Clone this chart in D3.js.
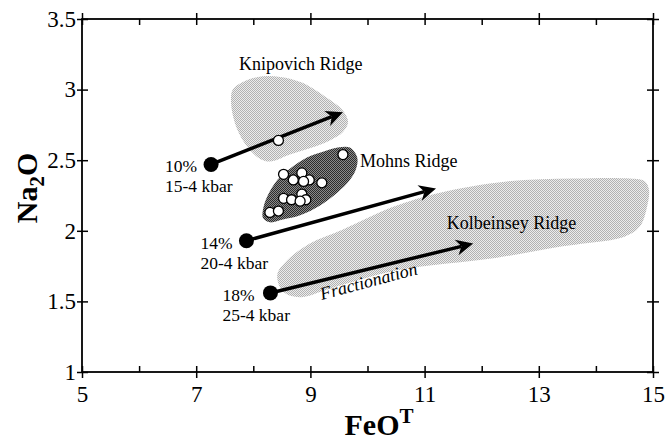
<!DOCTYPE html>
<html>
<head>
<meta charset="utf-8">
<script src="https://cdn.jsdelivr.net/npm/d3@7"></script>
<style>
  html, body { margin: 0; padding: 0; background: #fff; }
  svg { display: block; }
  svg text { font-family: "Liberation Serif", "Times New Roman", Times, serif; fill: #000; }
</style>
</head>
<body>
<svg id="chart" width="669" height="442"></svg>
<script>
// axis ticks
const xMajor = [5, 7, 9, 11, 13, 15];
const xMinor = [6, 8, 10, 12, 14];
const yMajor = [1, 1.5, 2, 2.5, 3, 3.5];

// field outlines (FeOT, Na2O)
const knipovichField = [[7.80,3.05],[8.08,3.09],[8.47,3.09],[8.85,3.05],[9.26,2.95],[9.55,2.86],[9.66,2.77],[9.57,2.70],[9.34,2.64],[9.03,2.59],[8.64,2.54],[8.29,2.49],[8.08,2.52],[7.85,2.62],[7.68,2.76],[7.61,2.91],[7.64,3.00]];
const mohnsField = [[9.69,2.59],[9.82,2.52],[9.80,2.44],[9.69,2.36],[9.47,2.27],[9.17,2.18],[8.82,2.11],[8.52,2.08],[8.29,2.06],[8.17,2.09],[8.17,2.15],[8.24,2.24],[8.42,2.36],[8.64,2.44],[8.94,2.52],[9.22,2.56],[9.48,2.59]];
const kolbeinseyField = [[8.42,1.69],[8.59,1.79],[8.99,1.91],[9.57,2.01],[10.45,2.17],[11.27,2.27],[12.44,2.35],[13.60,2.37],[14.60,2.37],[14.86,2.35],[14.93,2.29],[14.89,2.16],[14.77,2.03],[14.51,1.96],[13.42,1.89],[12.27,1.81],[10.52,1.72],[9.34,1.59],[8.82,1.53],[8.52,1.57]];

// samples (open circles)
const samples = [[8.44,2.64],[9.57,2.54],[8.53,2.40],[8.70,2.36],[8.85,2.41],[8.98,2.36],[8.88,2.35],[9.20,2.34],[8.53,2.23],[8.67,2.22],[8.85,2.26],[8.92,2.22],[8.82,2.21],[8.29,2.13],[8.44,2.14]];

// melting models: start point and fractionation arrow end
const meltPct = ['10%', '14%', '18%'];
const meltP = ['15-4 kbar', '20-4 kbar', '25-4 kbar'];
const meltStart = [[7.26,2.47],[7.88,1.93],[8.30,1.56]];
const meltEnd = [[9.57,2.84],[11.2,2.30],[11.85,1.91]];

// ridge labels
const ridgeNames = ['Knipovich Ridge', 'Mohns Ridge', 'Kolbeinsey Ridge'];
const ridgePos = [[7.75,3.14],[9.87,2.45],[11.39,2.01]];

const SERIF = '"Liberation Serif", "Times New Roman", Times, serif';
const W = 669, H = 442;
const m = {left: 82, top: 19, right: 16, bottom: 70};
const svg = d3.select('#chart');
const x = d3.scaleLinear().domain([5, 15]).range([m.left, W - m.right]);
const y = d3.scaleLinear().domain([1, 3.5]).range([H - m.bottom, m.top]);

// halftone-like fills
const defs = svg.append('defs');
function checker(id, c1, c2){
  const p = defs.append('pattern').attr('id', id).attr('width', 2).attr('height', 2).attr('patternUnits', 'userSpaceOnUse');
  p.append('rect').attr('width', 2).attr('height', 2).attr('fill', c2);
  p.append('rect').attr('width', 1).attr('height', 1).attr('fill', c1);
  p.append('rect').attr('x', 1).attr('y', 1).attr('width', 1).attr('height', 1).attr('fill', c1);
}
checker('light', '#b2b2b2', '#ececec');
checker('dark', '#2c2c2c', '#8a8a8a');

const area = d3.line().x(d => x(d[0])).y(d => y(d[1])).curve(d3.curveCatmullRomClosed.alpha(0.5));
const plot = svg.append('g');
plot.append('path').attr('d', area(kolbeinseyField)).attr('fill', 'url(#light)');
plot.append('path').attr('d', area(knipovichField)).attr('fill', 'url(#light)');
plot.append('path').attr('d', area(mohnsField)).attr('fill', 'url(#dark)');

// arrows
const headLen = 17, headHalf = 8, notch = 12;
meltStart.forEach((s, i) => {
  const e = meltEnd[i];
  const x0 = x(s[0]), y0 = y(s[1]), x1 = x(e[0]), y1 = y(e[1]);
  const ang = Math.atan2(y1 - y0, x1 - x0);
  const ux = Math.cos(ang), uy = Math.sin(ang);
  plot.append('line')
    .attr('x1', x0).attr('y1', y0)
    .attr('x2', x1 - ux * notch).attr('y2', y1 - uy * notch)
    .attr('stroke', '#000').attr('stroke-width', 3.5);
  const pts = [
    [x1, y1],
    [x1 - ux * headLen - uy * headHalf, y1 - uy * headLen + ux * headHalf],
    [x1 - ux * notch, y1 - uy * notch],
    [x1 - ux * headLen + uy * headHalf, y1 - uy * headLen - ux * headHalf]
  ];
  plot.append('path').attr('d', 'M' + pts.map(p => p.join(',')).join('L') + 'Z').attr('fill', '#000');
});

// samples
plot.selectAll('circle.sample').data(samples).join('circle')
  .attr('class', 'sample')
  .attr('cx', d => x(d[0])).attr('cy', d => y(d[1])).attr('r', 5)
  .attr('fill', '#fff').attr('stroke', '#000').attr('stroke-width', 1.3);

// melt starting points + labels
plot.selectAll('circle.melt').data(meltStart).join('circle')
  .attr('class', 'melt')
  .attr('cx', d => x(d[0])).attr('cy', d => y(d[1])).attr('r', 7.5)
  .attr('fill', '#000');
meltStart.forEach((s, i) => {
  const px = x(s[0]) - (i === 2 ? 48 : 46), py = y(s[1]);
  plot.append('text').attr('x', px).attr('y', py + 8).attr('font-family', SERIF).style('font-size', '17.5px').text(meltPct[i]);
  plot.append('text').attr('x', px).attr('y', py + 28).attr('font-family', SERIF).style('font-size', '17.5px').text(meltP[i]);
});

// ridge labels
ridgeNames.forEach((n, i) => {
  plot.append('text').attr('x', x(ridgePos[i][0])).attr('y', y(ridgePos[i][1]))
    .attr('font-family', SERIF).style('font-size', '18px').text(n);
});
plot.append('text')
  .attr('transform', `translate(${x(9.2)},${y(1.51)}) rotate(-15)`)
  .attr('font-family', SERIF)
  .style('font-size', '18px').style('font-style', 'italic').text('Fractionation');

// axes
const fmt = d3.format('');
const ax = svg.append('g');
function drawAxis(gen, tx, ty){
  const g = ax.append('g').attr('transform', `translate(${tx},${ty})`).call(gen);
  g.attr('font-family', SERIF);
  g.select('.domain').remove();
  g.selectAll('.tick line').attr('stroke', '#000').attr('stroke-width', 1.5);
  g.selectAll('.tick text').attr('fill', '#000').attr('font-family', SERIF).style('font-size', '23px');
  return g;
}
const yb = H - m.bottom, xr = W - m.right;
drawAxis(d3.axisBottom(x).tickValues(xMajor).tickSize(6).tickPadding(8).tickFormat(fmt), 0, yb);
drawAxis(d3.axisBottom(x).tickValues(xMajor.concat(xMinor)).tickSize(-6).tickFormat(''), 0, yb);
drawAxis(d3.axisTop(x).tickValues(xMajor).tickSize(6).tickFormat(''), 0, m.top);
drawAxis(d3.axisTop(x).tickValues(xMajor.concat(xMinor)).tickSize(-6).tickFormat(''), 0, m.top);
drawAxis(d3.axisLeft(y).tickValues(yMajor).tickSize(5).tickPadding(1).tickFormat(fmt), m.left, 0);
drawAxis(d3.axisLeft(y).tickValues(yMajor).tickSize(-6).tickFormat(''), m.left, 0);
drawAxis(d3.axisRight(y).tickValues(yMajor).tickSize(6).tickFormat(''), xr, 0);
drawAxis(d3.axisRight(y).tickValues(yMajor).tickSize(-6).tickFormat(''), xr, 0);
ax.append('rect').attr('x', m.left).attr('y', m.top).attr('width', xr - m.left).attr('height', yb - m.top)
  .attr('fill', 'none').attr('stroke', '#000').attr('stroke-width', 1.8);

// axis titles
const xt = svg.append('text').attr('x', 379).attr('y', 435).attr('text-anchor', 'middle')
  .attr('font-family', SERIF).style('font-size', '30px').style('font-weight', 'bold');
xt.append('tspan').text('FeO');
xt.append('tspan').attr('dy', -12).style('font-size', '21px').text('T');

const yt = svg.append('text').attr('transform', 'translate(37,188) rotate(-90)').attr('text-anchor', 'middle')
  .attr('font-family', SERIF).style('font-size', '30px').style('font-weight', 'bold');
yt.append('tspan').text('Na');
yt.append('tspan').attr('dy', 7).style('font-size', '21px').text('2');
yt.append('tspan').attr('dy', -7).text('O');
</script>
</body>
</html>
